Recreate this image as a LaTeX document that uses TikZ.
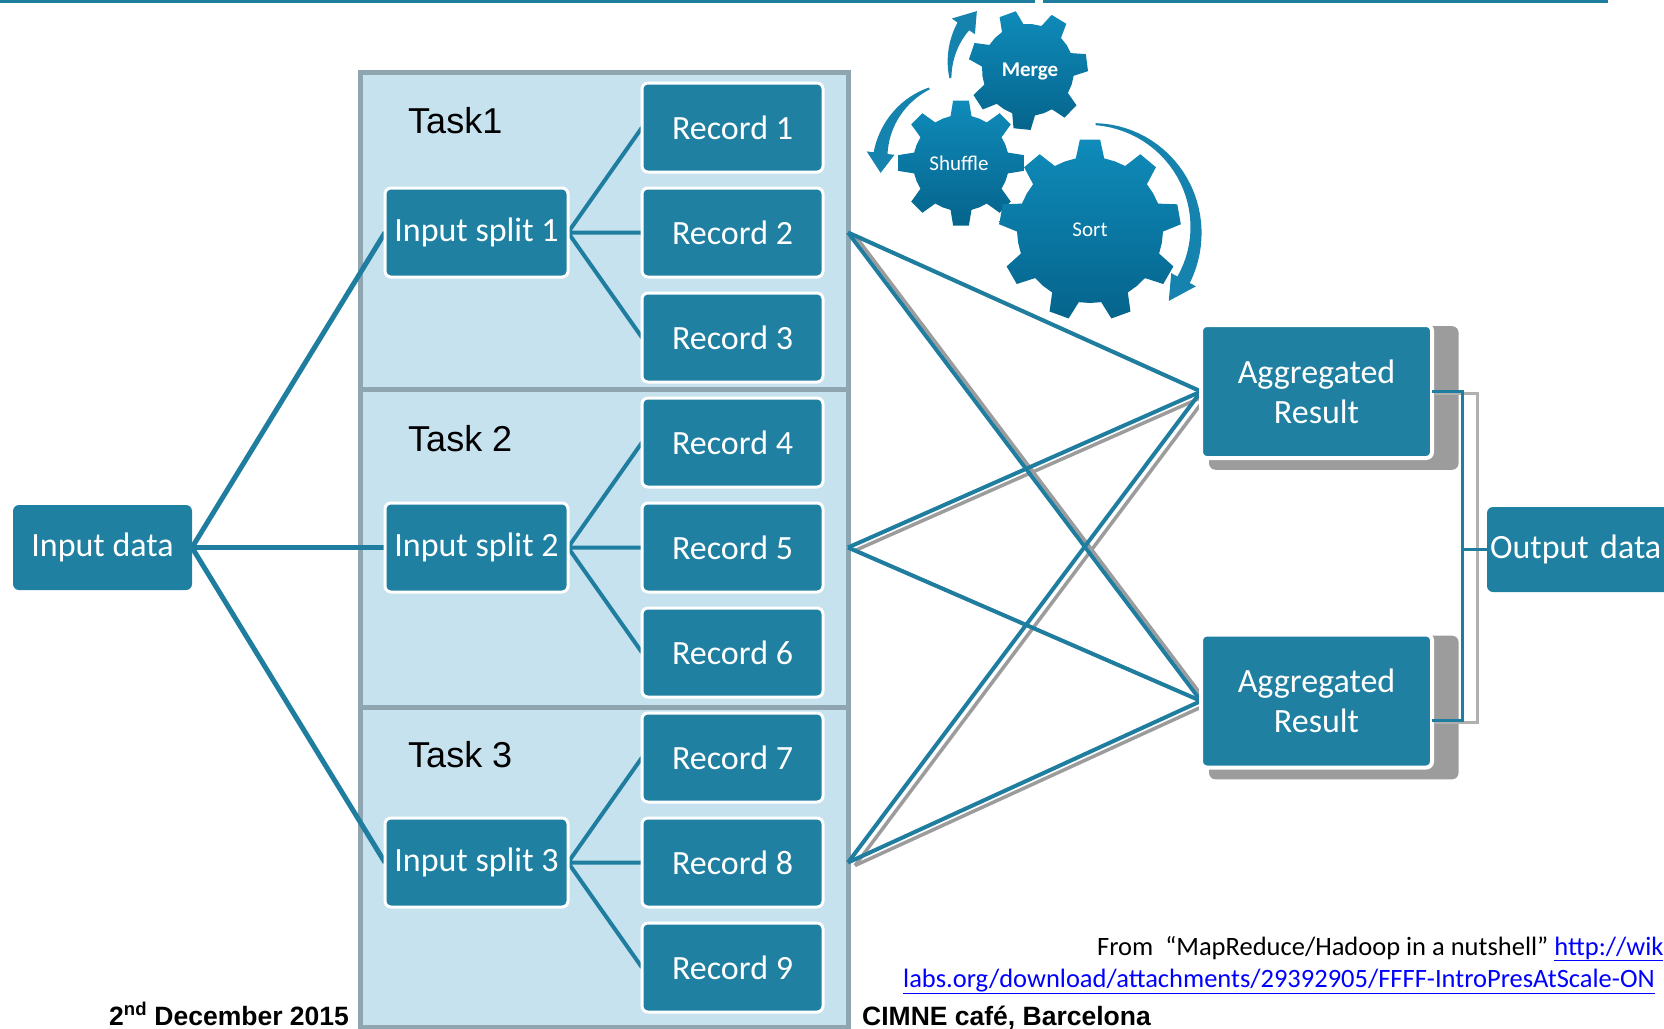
\documentclass[tikz,border=0pt]{standalone}
\usepackage{fontspec}
\setmainfont{Carlito}
\newfontfamily\arialfont{Liberation Sans}
\usetikzlibrary{positioning,shadows}
\definecolor{boxteal}{HTML}{1F80A1}
\definecolor{linkteal}{HTML}{1F7EA0}
\definecolor{panelfill}{HTML}{C6E2EE}
\definecolor{panelline}{HTML}{8FA5AF}
\definecolor{gearhi}{HTML}{0F8BBA}
\definecolor{gearlo}{HTML}{05648C}
\definecolor{turnfill}{HTML}{1583AE}
\definecolor{shadowgray}{HTML}{9C9C9C}
\definecolor{linkblue}{HTML}{0000FF}

\pgfdeclarelayer{back}
\pgfdeclarelayer{wires}
\pgfsetlayers{back,wires,main}

% #1 centre, #2 teeth, #3 root radius, #4 tip radius, #5 turn
\newcommand{\gear}[5]{%
  \shade[top color=gearhi,bottom color=gearlo,shift={#1}]
    ({#5+0.72*360/#2}:#3pt)
    \foreach \i [evaluate=\i as \a using #5+\i*360/#2] in {1,...,#2}{
      -- ({\a-0.28*360/#2}:#3pt) -- ({\a-0.16*360/#2}:#4pt)
      -- ({\a+0.16*360/#2}:#4pt) -- ({\a+0.28*360/#2}:#3pt)
      -- ({\a+0.5*360/#2}:#3pt)
    } -- cycle;}

% #1,#2 centre, #3 radius, #4 start, #5 end of shaft, #6 tip
\newcommand{\turnarrow}[6]{%
  \fill[turnfill]
    plot[domain=#4:#5,samples=30]
      ({#1+(#3+1+6*(\x-(#4))/((#5)-(#4)))*cos(\x)},{#2-(#3+1+6*(\x-(#4))/((#5)-(#4)))*sin(\x)})
    -- ({#1+(#3+14)*cos(#5)},{#2-(#3+14)*sin(#5)})
    -- ({#1+#3*cos(#6)},{#2-#3*sin(#6)})
    -- ({#1+(#3-14)*cos(#5)},{#2-(#3-14)*sin(#5)})
    -- plot[domain=#5:#4,samples=30]
      ({#1+(#3-1-6*(\x-(#4))/((#5)-(#4)))*cos(\x)},{#2-(#3-1-6*(\x-(#4))/((#5)-(#4)))*sin(\x)})
    -- cycle;}

\begin{document}
\begin{tikzpicture}[x=1pt,y=-1pt,node distance=16pt,
   box/.style={draw=white,line width=3pt,rounded corners=6pt,fill=boxteal,
               text=white,outer sep=0pt,inner sep=1pt,minimum width=181pt,
               minimum height=89pt,font=\fontsize{34}{40}\selectfont},
   panel/.style={draw=panelline,line width=5pt,fill=panelfill,
                 minimum width=488pt,outer sep=0pt},
   tasklabel/.style={anchor=base west,inner sep=0pt,
                     font=\arialfont\fontsize{36}{40}\selectfont},
   feed/.style={draw=linkteal,line width=5pt},
   branch/.style={draw=linkteal,line width=4pt,line join=round},
   cross/.style={draw=linkteal,line width=4pt},
   crossshade/.style={draw=shadowgray,line width=3.5pt},
   bracket/.style={draw=linkteal,line width=3pt},
   bracketshade/.style={draw=shadowgray!80,line width=3pt},
   gearlabel/.style={text=white,inner sep=0pt,font=\fontsize{21}{24}\selectfont},
   foot/.style={anchor=base west,inner sep=0pt,
                font=\arialfont\bfseries\fontsize{26.5}{30}\selectfont},
   source/.style={anchor=base west,inner sep=0pt,font=\fontsize{26.5}{30}\selectfont}]
  \useasboundingbox (0,0) rectangle (1664,1028);

  % rule along the top
  \draw[linkteal,line width=3pt] (0,1.5) -- (1035,1.5) (1043,1.5) -- (1608,1.5);

  % task panels
  \begin{pgfonlayer}{back}
    \node[panel,minimum height=317pt] (task1) at (604,230.5) {};
    \node[panel,minimum height=318pt] (task2) at (604,548) {};
    \node[panel,minimum height=320pt] (task3) at (604,867) {};
  \end{pgfonlayer}
  \node[tasklabel] (lab1) at (408,133) {Task1};
  \node[tasklabel] (lab2) at (408,451) {Task 2};
  \node[tasklabel] (lab3) at (408,767) {Task 3};

  % records
  \node[box] (rec1) at (732.5,127.5) {Record 1};
  \node[box,below=of rec1] (rec2) {Record 2};
  \node[box,below=of rec2] (rec3) {Record 3};
  \node[box,below=of rec3] (rec4) {Record 4};
  \node[box,below=of rec4] (rec5) {Record 5};
  \node[box,below=of rec5] (rec6) {Record 6};
  \node[box,below=of rec6] (rec7) {Record 7};
  \node[box,below=of rec7] (rec8) {Record 8};
  \node[box,below=of rec8] (rec9) {Record 9};

  % splits and input
  \node[box,minimum width=183pt,left=74pt of rec2] (split1) {Input split 1};
  \node[box,minimum width=183pt,left=74pt of rec5] (split2) {Input split 2};
  \node[box,minimum width=183pt,left=74pt of rec8] (split3) {Input split 3};
  \node[box,draw=none,minimum width=179pt,minimum height=85pt,
        left=193pt of split2] (indata) {Input data};

  % reduce side
  \node[box,line width=4pt,minimum width=231pt,minimum height=133pt,align=center,
        general shadow={fill=shadowgray,shadow scale=1.08,shadow xshift=16pt,shadow yshift=-6pt}]
        (agg1) at (1316.5,391.5) {Aggregated\\Result};
  \node[box,line width=4pt,minimum width=231pt,minimum height=133pt,align=center,
        general shadow={fill=shadowgray,shadow scale=1.08,shadow xshift=16pt,shadow yshift=-6pt}]
        (agg2) at (1316.5,701) {Aggregated\\Result};
  \node[box,draw=none,minimum height=85pt,text width=200pt,inner xsep=3pt,
        align=left,anchor=west] (outdata) at (1487,549.5) {Output data};

  \coordinate (tap1) at (rec2.east -| task1.east);
  \coordinate (tap2) at (rec5.east -| task1.east);
  \coordinate (tap3) at (rec8.east -| task1.east);

  \begin{pgfonlayer}{wires}
    \foreach \s in {split1,split2,split3}
      \draw[feed] (indata.east) -- (\s.west);
    \foreach \s/\a/\b/\c in {split1/rec1/rec2/rec3,split2/rec4/rec5/rec6,split3/rec7/rec8/rec9}
      \draw[branch] (\a.west) -- (\s.east) -- (\c.west) (\s.east) -- (\b.west);
    \foreach \t in {tap1,tap2,tap3}
      \foreach \g in {agg1,agg2}
        \draw[crossshade] ([xshift=7pt,yshift=-3pt]\t) -- ([xshift=7pt,yshift=-3pt]\g.west);
    \foreach \t in {tap1,tap2,tap3}
      \foreach \g in {agg1,agg2}
        \draw[cross] (\t) -- (\g.west);
  \end{pgfonlayer}

  % bracket to the output
  \coordinate[left=25pt of outdata.west] (bx);
  \draw[bracketshade] ([xshift=3pt,yshift=-2pt]agg1.east) -| ([xshift=15pt]bx)
                      |- ([xshift=3pt,yshift=-21pt]agg2.east);
  \draw[bracket] (agg1.east) -| (bx) |- ([yshift=-19pt]agg2.east);
  \draw[bracket] (bx) -- (outdata.west);

  % gears
  \gear{(1028,70)}{7}{46}{60}{110}
  \gear{(961,163)}{8}{48}{63}{90}
  \gear{(1090,230)}{9}{73}{91}{90}
  \turnarrow{1028}{70}{78}{186}{146}{131}
  \turnarrow{961}{163}{81}{113}{173}{187}
  \turnarrow{1090}{230}{106}{87}{-28}{-42}
  \node[gearlabel,font=\bfseries\fontsize{21}{24}\selectfont] (merge) at (1030,71) {Merge};
  \node[gearlabel] (shuffle) at (959,163) {Shuffle};
  \node[gearlabel] (sort) at (1090,230) {Sort};

  % footer
  \node[foot] (date) at (109,1025) {2\textsuperscript{nd} December 2015};
  \node[foot] (venue) at (862,1025) {CIMNE café, Barcelona};
  \node[source] (src1) at (1097,955)
       {From\ \ “MapReduce/Hadoop in a nutshell” \textcolor{linkblue}{\underline{http://wik}}};
  \node[source] (src2) at (903,987)
       {\textcolor{linkblue}{\underline{labs.org/download/attachments/29392905/FFFF-IntroPresAtScale-ON}}};
\end{tikzpicture}
\end{document}
